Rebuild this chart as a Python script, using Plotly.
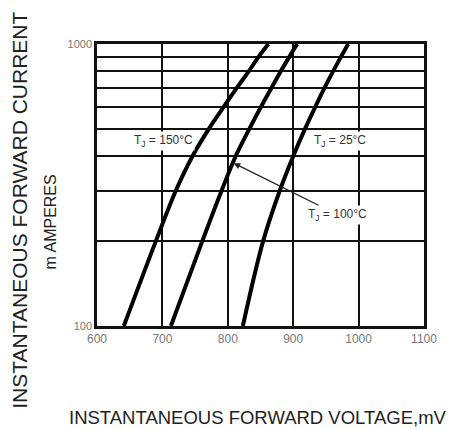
import math
import plotly.graph_objects as go

# Data (current in mA, voltage in mV)
current_ma = [100, 200, 300, 400, 500, 600, 700, 800, 900, 1000]
v_150c = [641, 690, 720, 746, 771, 794, 814, 832, 847, 862]
v_100c = [713, 761, 790, 812, 833, 851, 867, 881, 894, 906]
v_25c = [823, 854, 879, 900, 918, 934, 948, 961, 973, 984]

x_ticks = [600, 700, 800, 900, 1000, 1100]
y_grid = [100, 200, 300, 400, 500, 600, 700, 800, 900, 1000]
y_labels = ["100", "", "", "", "", "", "", "", "", "1000"]

FONT = "Liberation Sans, Arial, sans-serif"

fig = go.Figure()
for v in (v_150c, v_100c, v_25c):
    fig.add_trace(go.Scatter(
        x=v, y=current_ma, mode="lines",
        line=dict(color="black", width=4, shape="spline", smoothing=1.0),
        showlegend=False, hoverinfo="skip",
    ))

lab_font = dict(family=FONT, size=12, color="#333")
fig.add_annotation(x=701, y=math.log10(453), text="T<sub>J</sub> = 150°C", showarrow=False,
                   font=lab_font, bgcolor="white", borderpad=1)
fig.add_annotation(x=971, y=math.log10(453), text="T<sub>J</sub> = 25°C", showarrow=False,
                   font=lab_font, bgcolor="white", borderpad=1)
fig.add_annotation(x=809, y=math.log10(378), xref="x", yref="y",
                   ax=968, ay=math.log10(248), axref="x", ayref="y",
                   text="T<sub>J</sub> = 100°C", showarrow=True,
                   arrowhead=2, arrowsize=1, arrowwidth=1.3, arrowcolor="#222",
                   font=lab_font, bgcolor="white", borderpad=1)

# axis titles placed in pixel terms, converted to paper coords
W, H = 449, 430
L, R, T, B = 97, 22, 44, 104
pw, ph = W - L - R, H - T - B

def px2paper(px, py):
    return (px - L) / pw, 1 - (py - T) / ph

for text, (px, py), size, angle in [
    ("INSTANTANEOUS FORWARD CURRENT", (18, 210), 21, -90),
    ("m AMPERES", (50, 222), 16, -90),
    ("INSTANTANEOUS FORWARD VOLTAGE,mV", (259, 417), 18.5, 0),
]:
    x, y = px2paper(px, py)
    fig.add_annotation(x=x, y=y, xref="paper", yref="paper", text=text, showarrow=False,
                       textangle=angle, xanchor="center", yanchor="middle",
                       font=dict(family=FONT, size=size, color="#222"))

fig.update_layout(
    width=W, height=H,
    margin=dict(l=L, r=R, t=T, b=B),
    paper_bgcolor="white", plot_bgcolor="white",
    xaxis=dict(range=[600, 1100], tickvals=x_ticks, showgrid=True, gridcolor="#111", gridwidth=2,
               showline=True, linecolor="#111", linewidth=2.5, mirror=True, ticks="",
               tickfont=dict(family=FONT, size=12, color="#777"),
               zeroline=False, fixedrange=True),
    yaxis=dict(type="log", range=[2, 3], tickvals=y_grid, ticktext=y_labels, showgrid=True,
               gridcolor="#111", gridwidth=2, showline=True, linecolor="#111", linewidth=2.5,
               mirror=True, ticks="",
               tickfont=dict(family=FONT, size=11, color="#777"),
               zeroline=False, fixedrange=True),
)

fig.write_html("out.html", config={"displayModeBar": False},
               post_script="document.body.style.margin='0';")
